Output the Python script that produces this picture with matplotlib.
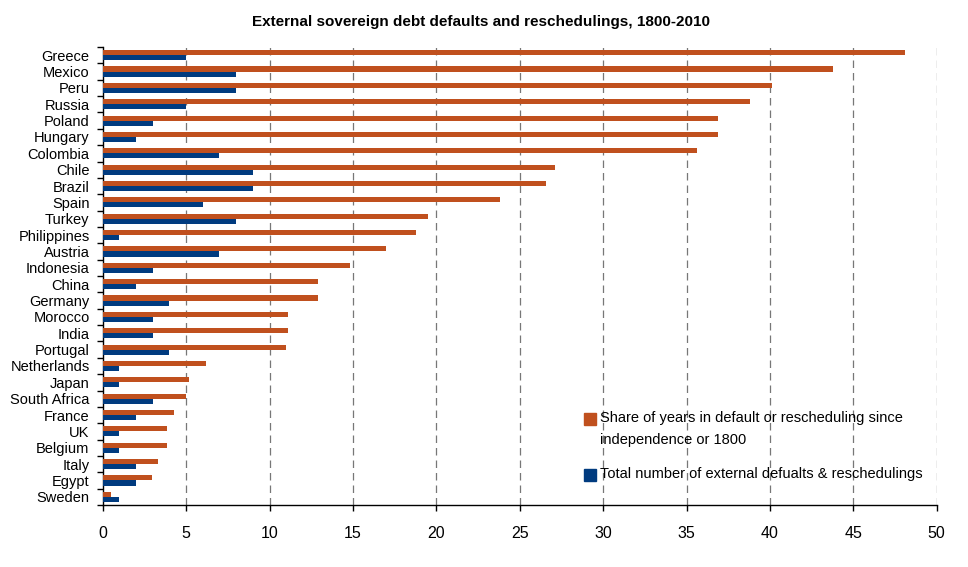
import numpy as np
import matplotlib
matplotlib.use('Agg')
import matplotlib.pyplot as plt
from matplotlib.patches import Rectangle

plt.rcParams['font.family'] = ['Liberation Sans', 'DejaVu Sans']

countries = ['Greece', 'Mexico', 'Peru', 'Russia', 'Poland', 'Hungary', 'Colombia',
             'Chile', 'Brazil', 'Spain', 'Turkey', 'Philippines', 'Austria', 'Indonesia',
             'China', 'Germany', 'Morocco', 'India', 'Portugal', 'Netherlands', 'Japan',
             'South Africa', 'France', 'UK', 'Belgium', 'Italy', 'Egypt', 'Sweden']
# share of years in default or rescheduling (%)
share_years = [48.1, 43.8, 40.1, 38.8, 36.9, 36.9, 35.6,
               27.1, 26.6, 23.8, 19.5, 18.8, 17.0, 14.8,
               12.9, 12.9, 11.1, 11.1, 11.0, 6.2, 5.2,
               5.0, 4.3, 3.85, 3.85, 3.3, 2.95, 0.5]
# total number of external defaults & reschedulings
n_defaults = [5, 8, 8, 5, 3, 2, 7,
              9, 9, 6, 8, 1, 7, 3,
              2, 4, 3, 3, 4, 1, 1,
              3, 2, 1, 1, 2, 2, 1]

orange = '#C0501E'
blue = '#003B7F'

fig = plt.figure(figsize=(9.68, 5.67), dpi=100)
ax = fig.add_axes([102.7/968, 62/567, 834/968, 458/567])

n = len(countries)
y = np.arange(n)[::-1]
h = 0.31
ax.barh(y + h/2, share_years, height=h, color=orange, zorder=3)
ax.barh(y - h/2, n_defaults, height=h, color=blue, zorder=3)

ax.set_xlim(0, 50)
ax.set_ylim(-0.5, n - 0.5)
ax.set_xticks(np.arange(0, 51, 5))
ax.tick_params(axis='x', direction='out', length=4, width=1, pad=11, labelsize=11.5)
ax.set_yticks(y)
ax.set_yticklabels(countries)
ax.tick_params(axis='y', which='major', length=0, pad=9.5, labelsize=10.5)
ax.set_yticks(np.arange(-0.5, n, 1), minor=True)
ax.tick_params(axis='y', which='minor', direction='out', length=4, width=1)

for x in range(5, 51, 5):
    ax.axvline(x, color='#777777', lw=0.9, dashes=(6, 4), zorder=1)

ax.spines['top'].set_visible(False)
ax.spines['right'].set_visible(False)
ax.spines['left'].set_linewidth(1)
ax.spines['bottom'].set_linewidth(1)

fig.text(0.497, 1 - 22/567, 'External sovereign debt defaults and reschedulings, 1800-2010',
         ha='center', va='center', fontsize=11, fontweight='bold')

# legend drawn by hand so the square lines up with the first text line
sq_w = 12/834
sq_h = 12/458
ax.add_patch(Rectangle((0.577, 0.188 - sq_h/2), sq_w, sq_h, transform=ax.transAxes,
                       color=orange, clip_on=False))
ax.text(0.596, 0.190, 'Share of years in default or rescheduling since',
        transform=ax.transAxes, va='center', ha='left', fontsize=10.5)
ax.text(0.596, 0.143, 'independence or 1800',
        transform=ax.transAxes, va='center', ha='left', fontsize=10.5)
ax.add_patch(Rectangle((0.577, 0.0655 - sq_h/2), sq_w, sq_h, transform=ax.transAxes,
                       color=blue, clip_on=False))
ax.text(0.596, 0.0675, 'Total number of external defualts & reschedulings',
        transform=ax.transAxes, va='center', ha='left', fontsize=10.5)

fig.savefig('out.png', dpi=100)
